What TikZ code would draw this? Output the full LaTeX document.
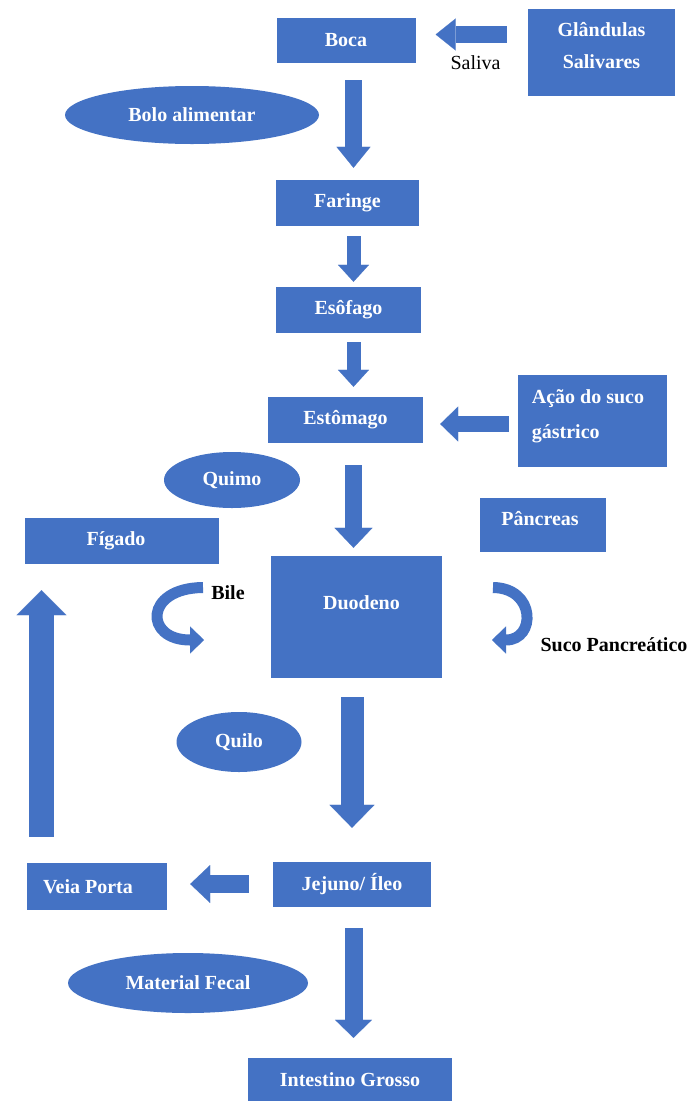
\documentclass[tikz,border=0pt]{standalone}
\usepackage{fontspec}
\setmainfont{Liberation Serif}
\usetikzlibrary{shapes.geometric,arrows.meta}
\definecolor{bl}{HTML}{4472C4}
\newcommand\liftt[2]{\raisebox{#1}[0pt][0pt]{#2}}
\begin{document}
\begin{tikzpicture}[x=1pt,y=-1pt,
  box/.style={fill=bl,draw=none,text=white,inner sep=0pt,font=\bfseries\fontsize{20}{24}\selectfont},
  oval/.style={ellipse,fill=bl,draw=none,text=white,inner sep=0pt,font=\bfseries\fontsize{20}{24}\selectfont},
  lbl/.style={text=black,inner sep=0pt,font=\bfseries\fontsize{20}{24}\selectfont},
  blk/.style={draw=bl,line cap=butt}
]
\useasboundingbox (0,0) rectangle (700,1101);
\fill[white] (0,0) rectangle (700,1101);

% boxes
\node[box,minimum width=139pt,minimum height=45pt] (boca) at (346,40.5) {Boca};
\node[box,minimum width=147pt,minimum height=87pt] (glandulas) at (601.5,52.5)
  {\liftt{1.5pt}{\fontsize{20}{32}\selectfont\begin{tabular}{@{}c@{}}Glândulas\\Salivares\end{tabular}}};
\node[box,minimum width=143pt,minimum height=46pt] (faringe) at (347.5,203) {Faringe};
\node[box,minimum width=145pt,minimum height=46pt] (esofago) at (348.5,310) {Esôfago};
\node[box,minimum width=155pt,minimum height=46pt] (estomago) at (345.5,420) {Estômago};
\node[box,minimum width=149pt,minimum height=92pt] (acao) at (592.5,421)
  {\liftt{1.5pt}{\fontsize{20}{35}\selectfont\begin{tabular}{@{}l@{}}Ação do suco\\gástrico\end{tabular}}\kern9pt};
\node[box,minimum width=126pt,minimum height=54pt] (pancreas) at (543,525) {\liftt{0pt}{Pâncreas}\kern6pt};
\node[box,minimum width=194pt,minimum height=46pt] (figado) at (122,541) {Fígado\kern12pt};
\node[box,minimum width=171pt,minimum height=122pt] (duodeno) at (356.5,617) {\kern10pt\liftt{8pt}{Duodeno}};
\node[box,minimum width=140pt,minimum height=47pt] (veia) at (97,886.5) {Veia Porta\kern18pt};
\node[box,minimum width=158pt,minimum height=45pt] (jejuno) at (352,884.5) {Jejuno/ Íleo};
\node[box,minimum width=204pt,minimum height=44pt] (intestino) at (350,1080) {Intestino Grosso};

% ovals
\node[oval,minimum width=254pt,minimum height=58pt] (bolo) at (192,115) {Bolo alimentar};
\node[oval,minimum width=136pt,minimum height=56pt] (quimo) at (232,480) {Quimo};
\node[oval,minimum width=125pt,minimum height=60pt] (quilo) at (239,742) {Quilo};
\node[oval,minimum width=240pt,minimum height=60pt] (fecal) at (188,983) {Material Fecal};

% labels
\node[lbl,font=\fontsize{20}{24}\selectfont] (saliva) at (475.5,63) {Saliva};
\node[lbl] (bile) at (228,593) {Bile};
\node[lbl] (suco) at (614,645) {Suco Pancreático};

% helper coordinates
\coordinate (cx) at (353.5,0);
\coordinate (cx2) at (352,0);
\coordinate (lx) at (41.5,0);
\coordinate (r1) at (0,34.5);
\coordinate (r2) at (0,424);
\coordinate (r3) at (0,884);

% straight block arrows
\draw[blk,line width=17pt,-{Triangle[width=32pt,length=20pt,line width=0.1pt]},shorten <=21pt,shorten >=20pt]
  (glandulas.west |- r1) -- (boca.east |- r1);
\draw[blk,line width=17pt,-{Triangle[width=34pt,length=21pt,line width=0.1pt]},shorten <=17pt,shorten >=12pt]
  (boca.south -| cx) -- (faringe.north -| cx);
\draw[blk,line width=14pt,-{Triangle[width=31pt,length=17pt,line width=0.1pt]},shorten <=10pt,shorten >=5pt]
  (faringe.south -| cx) -- (esofago.north -| cx);
\draw[blk,line width=14pt,-{Triangle[width=31pt,length=17pt,line width=0.1pt]},shorten <=9pt,shorten >=10pt]
  (esofago.south -| cx) -- (estomago.north -| cx);
\draw[blk,line width=16pt,-{Triangle[width=35pt,length=18pt,line width=0.1pt]},shorten <=9pt,shorten >=17pt]
  (acao.west |- r2) -- (estomago.east |- r2);
\draw[blk,line width=17pt,-{Triangle[width=38pt,length=20pt,line width=0.1pt]},shorten <=22pt,shorten >=8pt]
  (estomago.south -| cx) -- (duodeno.north -| cx);
\draw[blk,line width=23pt,-{Triangle[width=45pt,length=23pt,line width=0.1pt]},shorten <=19pt,shorten >=34pt]
  (duodeno.south -| cx2) -- (jejuno.north -| cx2);
\draw[blk,line width=18pt,-{Triangle[width=38pt,length=20pt,line width=0.1pt]},shorten <=24pt,shorten >=23pt]
  (jejuno.west |- r3) -- (veia.east |- r3);
\draw[blk,line width=18pt,-{Triangle[width=37pt,length=18pt,line width=0.1pt]},shorten <=21pt,shorten >=20pt]
  (jejuno.south -| cx) -- (intestino.north -| cx);
\draw[blk,line width=25pt,-{Triangle[width=50pt,length=25pt,line width=0.1pt]},shorten <=26pt,shorten >=26pt]
  (veia.north -| lx) -- (figado.south -| lx);

% curved arrows
\coordinate (b1) at (203,587.5);
\coordinate (b2) at (204,640);
\coordinate (p1) at (493,587.5);
\coordinate (p2) at (492,640);
\draw[blk,line width=11pt,-{Triangle[width=27pt,length=14pt,line width=0.1pt]}]
  (b1) .. controls (144,588) and (144,640) .. (b2);
\draw[blk,line width=11pt,-{Triangle[width=27pt,length=14pt,line width=0.1pt]}]
  (p1) .. controls (536,588) and (536,640) .. (p2);
\end{tikzpicture}
\end{document}
